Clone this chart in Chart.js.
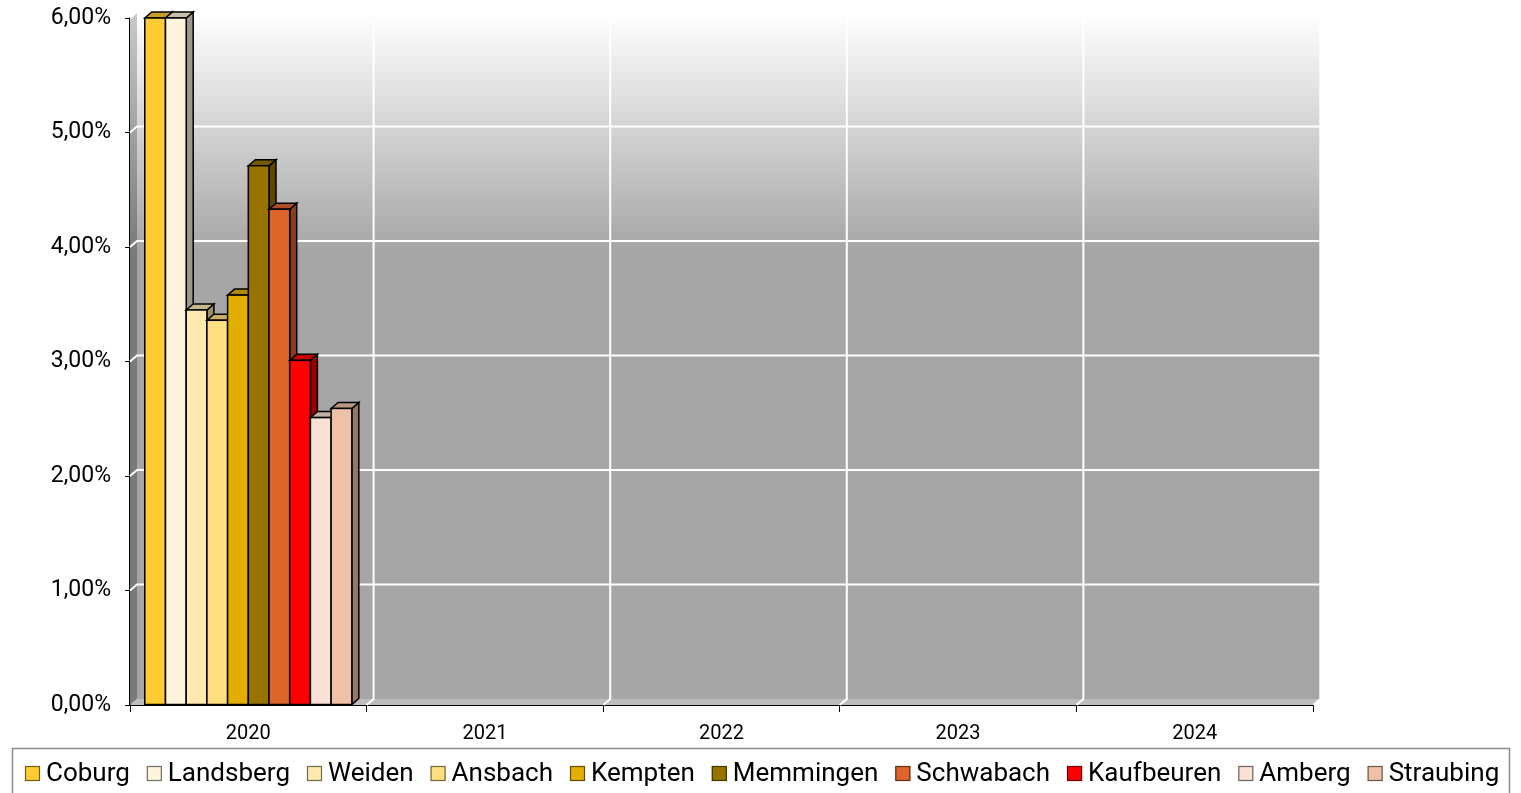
<!DOCTYPE html>
<html>
<head>
<meta charset="utf-8">
<script src="https://cdn.jsdelivr.net/npm/chart.js@4"></script>
<style>
html,body{margin:0;padding:0;background:#fff;}
#wrap{position:relative;width:1521px;height:793px;}
</style>
</head>
<body>
<div id="wrap"><canvas id="c" width="1521" height="793"></canvas></div>
<script>
const categories = ['2020', '2021', '2022', '2023', '2024'];
const seriesNames = ['Coburg', 'Landsberg', 'Weiden', 'Ansbach', 'Kempten', 'Memmingen', 'Schwabach', 'Kaufbeuren', 'Amberg', 'Straubing'];
const coburg     = [6.00, 0, 0, 0, 0];
const landsberg  = [6.00, 0, 0, 0, 0];
const weiden     = [3.45, 0, 0, 0, 0];
const ansbach    = [3.36, 0, 0, 0, 0];
const kempten    = [3.58, 0, 0, 0, 0];
const memmingen  = [4.71, 0, 0, 0, 0];
const schwabach  = [4.33, 0, 0, 0, 0];
const kaufbeuren = [3.01, 0, 0, 0, 0];
const amberg     = [2.51, 0, 0, 0, 0];
const straubing  = [2.59, 0, 0, 0, 0];
const yTicks = [0, 1, 2, 3, 4, 5, 6];

const seriesValues = [coburg, landsberg, weiden, ansbach, kempten, memmingen, schwabach, kaufbeuren, amberg, straubing];
const colors = ['#FFCC33', '#FFF5DC', '#FFE9AF', '#FFDF80', '#E3AE00', '#997300', '#DD652B', '#FF0000', '#FAE1D5', '#EFC1A6'];

const DX = 7, DY = 6;

function shade(hex, f) {
  const n = parseInt(hex.slice(1), 16);
  const r = Math.round(((n >> 16) & 255) * f), g = Math.round(((n >> 8) & 255) * f), b = Math.round((n & 255) * f);
  return 'rgb(' + r + ',' + g + ',' + b + ')';
}

const wallPlugin = {
  id: 'wall',
  beforeDatasetsDraw(chart) {
    const ctx = chart.ctx, a = chart.chartArea;
    const ys = chart.scales.y;
    ctx.save();
    const g = ctx.createLinearGradient(0, a.top - DY, 0, 250);
    g.addColorStop(0, '#ffffff');
    g.addColorStop(1, '#a6a6a6');
    ctx.fillStyle = g;
    ctx.fillRect(a.left + DX, a.top - DY, a.right - a.left, a.bottom - a.top);
    const g2 = ctx.createLinearGradient(0, a.top, 0, 250);
    g2.addColorStop(0, '#c8c8c8');
    g2.addColorStop(1, '#7a7a7a');
    ctx.fillStyle = g2;
    ctx.beginPath();
    ctx.moveTo(a.left, a.top);
    ctx.lineTo(a.left + DX, a.top - DY);
    ctx.lineTo(a.left + DX, a.bottom - DY);
    ctx.lineTo(a.left, a.bottom);
    ctx.closePath();
    ctx.fill();
    ctx.fillStyle = '#bdbdbd';
    ctx.beginPath();
    ctx.moveTo(a.left, a.bottom);
    ctx.lineTo(a.left + DX, a.bottom - DY);
    ctx.lineTo(a.right + DX, a.bottom - DY);
    ctx.lineTo(a.right, a.bottom);
    ctx.closePath();
    ctx.fill();
    ctx.strokeStyle = '#ffffff';
    ctx.lineWidth = 2;
    ys.ticks.forEach(t => {
      const y = ys.getPixelForValue(t.value);
      if (t.value === 0) return;
      ctx.beginPath();
      ctx.moveTo(a.left, y);
      ctx.lineTo(a.left + DX, y - DY);
      ctx.lineTo(a.right + DX, y - DY);
      ctx.stroke();
    });
    const n = categories.length;
    const w = (a.right - a.left) / n;
    for (let i = 1; i < n; i++) {
      const x = a.left + w * i;
      ctx.beginPath();
      ctx.moveTo(x, a.bottom);
      ctx.lineTo(x + DX, a.bottom - DY);
      ctx.lineTo(x + DX, a.top - DY);
      ctx.stroke();
    }
    ctx.strokeStyle = 'rgba(255,255,255,0.7)';
    ctx.beginPath();
    ctx.moveTo(a.right, a.bottom);
    ctx.lineTo(a.right + DX, a.bottom - DY);
    ctx.lineTo(a.right + DX, a.top - DY);
    ctx.stroke();
    ctx.restore();
  },
  afterDatasetsDraw(chart) {
    const ctx = chart.ctx;
    const metas = chart.data.datasets.map((d, i) => chart.getDatasetMeta(i));
    const nPts = categories.length;
    ctx.save();
    ctx.lineJoin = 'miter';
    ctx.lineWidth = 1.5;
    ctx.strokeStyle = '#000';
    for (let p = 0; p < nPts; p++) {
      metas.forEach((meta, di) => {
        const el = meta.data[p];
        if (!el) return;
        const val = chart.data.datasets[di].data[p];
        if (!val) return;
        const left = el.x - el.width / 2, right = el.x + el.width / 2;
        const top = el.y, base = el.base;
        const col = colors[di];
        ctx.fillStyle = shade(col, 0.62);
        ctx.beginPath();
        ctx.moveTo(right, top);
        ctx.lineTo(right + DX, top - DY);
        ctx.lineTo(right + DX, base - DY);
        ctx.lineTo(right, base);
        ctx.closePath();
        ctx.fill(); ctx.stroke();
        ctx.fillStyle = shade(col, 0.78);
        ctx.beginPath();
        ctx.moveTo(left, top);
        ctx.lineTo(left + DX, top - DY);
        ctx.lineTo(right + DX, top - DY);
        ctx.lineTo(right, top);
        ctx.closePath();
        ctx.fill(); ctx.stroke();
        ctx.fillStyle = col;
        ctx.fillRect(left, top, right - left, base - top);
        ctx.strokeRect(left, top, right - left, base - top);
      });
    }
    ctx.restore();
  },
  afterDraw(chart) {
    const ctx = chart.ctx;
    ctx.save();
    ctx.strokeStyle = '#8c8c8c';
    ctx.lineWidth = 1.5;
    ctx.strokeRect(12.5, 748.5, 1497, 60);
    ctx.font = '26px Roboto';
    ctx.textBaseline = 'middle';
    let x = 25;
    const cy = 773;
    seriesNames.forEach((name, i) => {
      ctx.fillStyle = colors[i];
      ctx.fillRect(x, cy - 7, 15, 15);
      ctx.strokeStyle = shade(colors[i], 0.45);
      ctx.lineWidth = 1.2;
      ctx.strokeRect(x + 0.5, cy - 6.5, 14, 14);
      ctx.fillStyle = '#000';
      ctx.fillText(name, x + 21, cy + 1);
      x += 21 + ctx.measureText(name).width + 17;
    });
    ctx.restore();
  }
};

new Chart(document.getElementById('c'), {
  type: 'bar',
  data: {
    labels: categories,
    datasets: seriesNames.map((name, i) => ({
      label: name,
      data: seriesValues[i],
      backgroundColor: colors[i],
      borderColor: '#000',
      borderWidth: 0
    }))
  },
  plugins: [wallPlugin],
  options: {
    responsive: false,
    animation: false,
    devicePixelRatio: 1,
    layout: { padding: { left: 0, right: 208, top: 18, bottom: 45 } },
    plugins: { legend: { display: false }, tooltip: { enabled: false } },
    datasets: { bar: { categoryPercentage: 0.875, barPercentage: 1.0 } },
    scales: {
      x: {
        afterFit(s) { s.height = 43; s.paddingLeft = 0; s.paddingRight = 0; },
        grid: { offset: true, drawOnChartArea: false, drawTicks: true, tickLength: 7, color: '#000', lineWidth: 1 },
        border: { display: true, color: '#000', width: 2 },
        ticks: { color: '#000', font: { family: 'Roboto', size: 20 }, padding: 10 }
      },
      y: {
        min: 0, max: 6,
        afterFit(s) { s.width = 130; s.paddingTop = 0; s.paddingBottom = 0; },
        afterBuildTicks(s) { s.ticks = yTicks.map(v => ({ value: v })); },
        grid: { drawOnChartArea: false, drawTicks: true, tickLength: 5, color: '#000', lineWidth: 1 },
        border: { display: true, color: '#000', width: 2 },
        ticks: {
          color: '#000', font: { family: 'Roboto', size: 23 }, padding: 14,
          callback: v => v.toFixed(2).replace('.', ',') + '%'
        }
      }
    }
  }
});
</script>
</body>
</html>
